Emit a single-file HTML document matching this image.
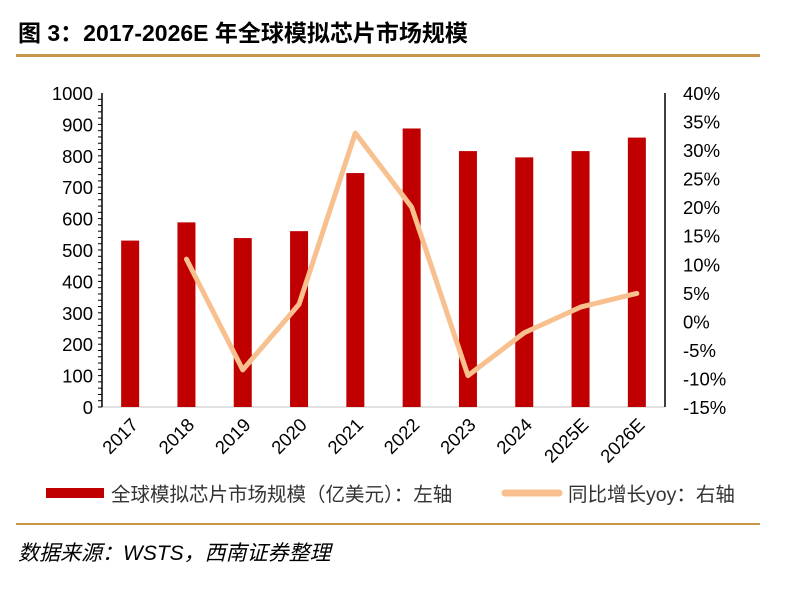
<!DOCTYPE html>
<html><head><meta charset="utf-8"><style>
body{margin:0;background:#fff;width:787px;height:584px;overflow:hidden;font-family:"Liberation Sans","Noto Sans CJK SC",sans-serif}
</style></head><body>
<svg width="787" height="584" font-family="'Liberation Sans','Noto Sans CJK SC',sans-serif">
<text x="18" y="41" font-size="23" font-weight="bold" fill="#000">图 3：2017-2026E 年全球模拟芯片市场规模</text>
<rect x="16" y="54" width="744" height="3" fill="#c9954a"/>
<g id="plot"></g>
<rect x="16" y="523" width="744" height="2" fill="#c9954a"/>
<text x="18" y="560" font-size="21" font-style="italic" fill="#000">数据来源：WSTS，西南证券整理</text>
</svg>
<script>
const categories=["2017","2018","2019","2020","2021","2022","2023","2024","2025E","2026E"];
const marketSize=[530,588,538,560,745,887,815,795,815,858];
const yoy=[null,10.9,-8.5,3.0,33.0,20.0,-9.5,-2.0,2.5,4.9];
const leftTicks=[0,100,200,300,400,500,600,700,800,900,1000];
const rightTicks=[-15,-10,-5,0,5,10,15,20,25,30,35,40];
const NS="http://www.w3.org/2000/svg";
const g=document.getElementById('plot');
const X0=102,X1=665,Y0=407,Y1=93;
const band=(X1-X0)/categories.length;
const xc=i=>X0+band*(i+0.5);
const yL=v=>Y0-(v/1000)*(Y0-Y1);
const yR=v=>Y0-((v+15)/55)*(Y0-Y1);
function mk(t,a){const e=document.createElementNS(NS,t);for(const k in a)e.setAttribute(k,a[k]);g.appendChild(e);return e;}
let e;
e=mk('line',{x1:X0,y1:Y0,x2:X1,y2:Y0,stroke:'#d9d9d9','stroke-width':1.5});

e=mk('line',{x1:X0,y1:Y1,x2:X0,y2:Y0,stroke:'#000','stroke-width':1.5});

e=mk('line',{x1:X1,y1:Y1,x2:X1,y2:Y0,stroke:'#000','stroke-width':1.5});

leftTicks.forEach(v=>{
 for(let m=0;m<5&&v<1000;m++){const yy=yL(v+m*20);const t=mk('line',{x1:X0-4,y1:yy,x2:X0,y2:yy,stroke:'#000','stroke-width':1});}
 const t=mk('text',{x:X0-9,y:yL(v)+7,'font-size':18.5,'text-anchor':'end',fill:'#000'});t.textContent=v;
 
});
rightTicks.forEach(v=>{
 const t=mk('text',{x:X1+18,y:yR(v)+7,'font-size':18.5,fill:'#000'});t.textContent=v+'%';
 
});
categories.forEach((c,i)=>{
 const b=mk('rect',{x:xc(i)-9,y:yL(marketSize[i]),width:18,height:Y0-yL(marketSize[i]),fill:'#c00000'});
 
 const t=mk('text',{x:xc(i)+9,y:Y0+19,'font-size':18.5,'text-anchor':'end',fill:'#000',transform:`rotate(-45 ${xc(i)+9} ${Y0+19})`});t.textContent=c;
 
});
let d='';yoy.forEach((v,i)=>{if(v!==null)d+=(d?'L':'M')+xc(i)+','+yR(v);});
e=mk('path',{d:d,fill:'none',stroke:'#f8c08e','stroke-width':5,'stroke-linejoin':'round','stroke-linecap':'round'});

e=mk('rect',{x:46,y:488,width:58,height:10,fill:'#c00000'});

e=mk('text',{x:111,y:501,'font-size':19.5,fill:'#333'});e.textContent='全球模拟芯片市场规模（亿美元）：左轴';

e=mk('line',{x1:505,y1:493,x2:559,y2:493,stroke:'#f8c08e','stroke-width':7,'stroke-linecap':'round'});

e=mk('text',{x:568,y:501,'font-size':19.5,fill:'#333'});e.textContent='同比增长yoy：右轴';

</script>
</body></html>
